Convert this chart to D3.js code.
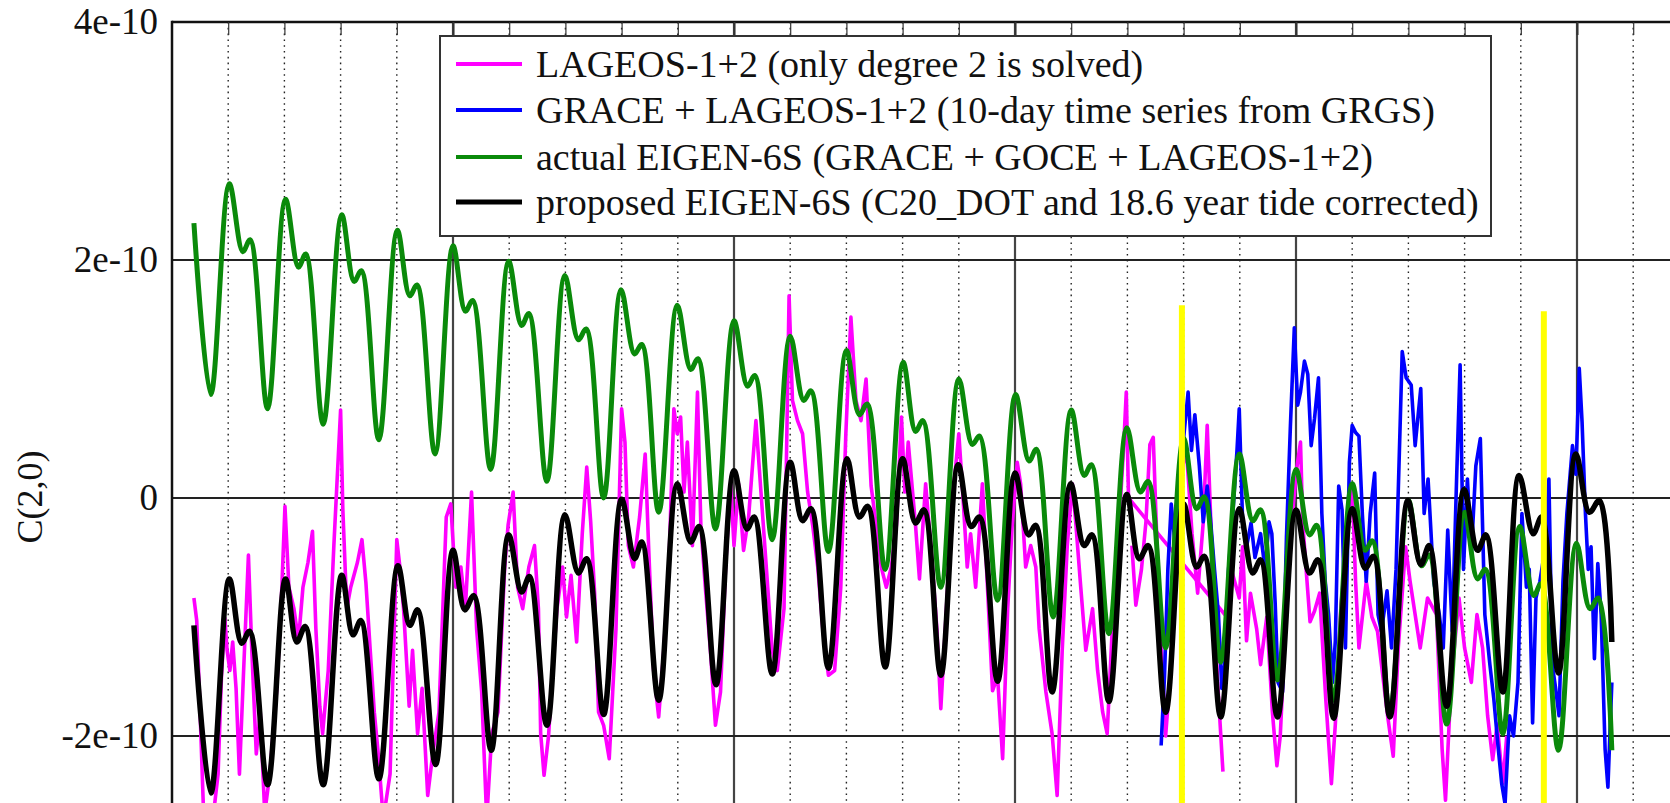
<!DOCTYPE html>
<html><head><meta charset="utf-8">
<script src="https://cdn.jsdelivr.net/npm/d3@7"></script>
<style>html,body{margin:0;padding:0;background:#fff;}svg{display:block;}
text{font-family:"Liberation Serif","Times New Roman",serif;}</style>
</head><body><svg id="c" width="1670" height="803"></svg>
<script>
// ---- DATA (values in units of 1e-12, time in decimal years) ----
const yTickValues = [400, 200, 0, -200];
const yTickLabels = ["4e-10", "2e-10", "0", "-2e-10"];
const yearGrid = [1986,1987,1988,1989,1990,1991,1992,1993,1994,1995,1996,1997,1998,1999,2000,2001,2002,2003,2004,2005,2006,2007,2008,2009,2010,2011];
const majorYears = [1990,1995,2000,2005,2010];
const legendLabels = [
  "LAGEOS-1+2 (only degree 2 is solved)",
  "GRACE + LAGEOS-1+2 (10-day time series from GRGS)",
  "actual EIGEN-6S (GRACE + GOCE + LAGEOS-1+2)",
  "proposed EIGEN-6S (C20_DOT and 18.6 year tide corrected)"
];
const seriesColors = ["#ff00ff", "#0000ff", "#0a8a0a", "#000000"];
const markerYears = [2002.97, 2009.41];
const markerTops = [162, 157];

const greenEigen = [
[1985.39,231],[1985.69,87],[1986.02,264],[1986.26,207],[1986.39,217],[1986.70,75],
[1987.02,251],[1987.25,194],[1987.38,205],[1987.69,62],[1988.02,238],[1988.24,182],[1988.37,191],[1988.68,49],
[1989.01,225],[1989.23,170],[1989.36,179],[1989.68,37],[1990.00,212],[1990.22,157],[1990.35,166],[1990.67,24],
[1990.99,199],[1991.22,145],[1991.35,155],[1991.67,14],[1991.99,187],[1992.23,133],[1992.37,142],[1992.68,0],
[1992.99,175],[1993.23,121],[1993.36,129],[1993.66,-12],[1993.99,162],[1994.23,108],[1994.36,117],[1994.67,-26],
[1995.00,149],[1995.24,94],[1995.37,103],[1995.68,-35],[1996.00,136],[1996.24,82],[1996.37,90],[1996.68,-45],
[1997.00,124],[1997.23,70],[1997.37,79],[1997.69,-60],[1998.01,114],[1998.23,56],[1998.36,65],[1998.68,-75],
[1999.00,100],[1999.24,45],[1999.37,52],[1999.69,-86],[2000.01,87],[2000.25,31],[2000.38,41],[2000.68,-100],
[2001.00,74],[2001.23,19],[2001.36,28],[2001.67,-114],[2001.99,59],[2002.23,5],[2002.37,14],[2002.68,-126],
[2003.00,50],[2003.23,-9],[2003.37,1],[2003.66,-138],[2003.99,37],[2004.23,-19],[2004.37,-10],[2004.67,-153],
[2005.00,24],[2005.24,-31],[2005.37,-23],[2005.67,-170],[2006.00,12],[2006.23,-44],[2006.36,-36],[2006.67,-180],
[2007.00,-2],[2007.23,-57],[2007.37,-48],[2007.68,-190],[2008.00,-12],[2008.23,-68],[2008.37,-60],[2008.68,-198],
[2008.98,-24],[2009.23,-82],[2009.36,-72],[2009.67,-212],[2009.99,-38],[2010.23,-93],[2010.38,-84],[2010.62,-212]
];

const blackProposed = [
[1985.39,-107],[1985.69,-248],[1986.02,-68],[1986.24,-122],[1986.38,-112],[1986.70,-241],
[1987.02,-68],[1987.22,-121],[1987.37,-108],[1987.69,-241],[1988.02,-65],[1988.22,-115],[1988.36,-103],[1988.68,-236],
[1989.02,-57],[1989.23,-107],[1989.37,-94],[1989.69,-224],[1990.00,-44],[1990.21,-94],[1990.37,-82],[1990.68,-212],
[1990.99,-31],[1991.22,-79],[1991.36,-66],[1991.67,-191],[1991.99,-14],[1992.23,-63],[1992.38,-51],[1992.68,-182],
[1993.00,-1],[1993.23,-51],[1993.36,-37],[1993.66,-170],[1993.99,12],[1994.23,-37],[1994.38,-24],[1994.68,-157],
[1995.00,23],[1995.23,-26],[1995.36,-16],[1995.68,-148],[1996.00,30],[1996.22,-19],[1996.37,-9],[1996.68,-143],
[1997.01,33],[1997.23,-16],[1997.38,-7],[1997.69,-142],[1998.00,33],[1998.23,-21],[1998.38,-10],[1998.68,-149],
[1998.99,28],[1999.22,-24],[1999.37,-16],[1999.69,-154],[2000.00,21],[2000.24,-31],[2000.37,-23],[2000.66,-163],
[2000.99,12],[2001.23,-40],[2001.37,-31],[2001.67,-171],[2001.99,3],[2002.21,-51],[2002.37,-40],[2002.68,-180],
[2003.00,-5],[2003.23,-58],[2003.37,-49],[2003.66,-184],[2003.99,-9],[2004.23,-63],[2004.37,-52],[2004.67,-184],
[2005.00,-10],[2005.24,-63],[2005.39,-52],[2005.67,-185],[2006.00,-9],[2006.23,-59],[2006.38,-49],[2006.67,-184],
[2006.99,-2],[2007.22,-56],[2007.37,-40],[2007.68,-175],[2007.99,7],[2008.23,-44],[2008.38,-31],[2008.68,-163],
[2008.97,19],[2009.22,-30],[2009.37,-16],[2009.67,-147],[2009.98,37],[2010.22,-12],[2010.40,-2],[2010.62,-121]
];

const magentaLageosA = [
[1985.39,-84],[1985.44,-103],[1985.50,-180],[1985.56,-262],[1985.65,-275],[1985.74,-265],[1985.82,-232],[1985.88,-150],
[1985.94,-101],[1985.98,-128],[1986.03,-145],[1986.08,-121],[1986.14,-160],[1986.20,-232],[1986.27,-150],[1986.36,-48],
[1986.42,-128],[1986.50,-215],[1986.57,-180],[1986.65,-265],[1986.74,-232],[1986.86,-163],[1986.94,-93],[1987.01,-7],
[1987.08,-75],[1987.17,-93],[1987.25,-120],[1987.33,-75],[1987.42,-54],[1987.50,-28],[1987.56,-110],[1987.63,-175],
[1987.68,-198],[1987.78,-145],[1987.88,-40],[1988.00,74],[1988.04,-10],[1988.11,-93],[1988.18,-75],[1988.30,-54],
[1988.38,-35],[1988.45,-71],[1988.53,-130],[1988.60,-180],[1988.67,-215],[1988.76,-270],[1988.88,-232],[1989.00,-35],
[1989.06,-60],[1989.12,-93],[1989.22,-175],[1989.28,-128],[1989.37,-198],[1989.45,-160],[1989.55,-250],[1989.64,-215],
[1989.75,-180],[1989.88,-16],[1989.96,-5],[1990.05,-75],[1990.14,-58],[1990.22,-93],[1990.33,5],[1990.42,-110],
[1990.51,-163],[1990.60,-270],[1990.69,-198],[1990.80,-180],[1990.92,-58],[1990.98,-23],[1991.07,5],[1991.15,-75],
[1991.24,-93],[1991.35,-58],[1991.45,-40],[1991.52,-93],[1991.56,-198],[1991.62,-233],[1991.70,-200],[1991.78,-140],
[1991.85,-93],[1991.95,-58],[1992.02,-100],[1992.10,-65],[1992.20,-121],[1992.30,-30],[1992.38,26],[1992.45,-20],
[1992.52,-80],[1992.59,-180],[1992.68,-191],[1992.78,-219],[1992.90,-110],[1993.00,75],[1993.06,47],[1993.12,-40],
[1993.21,-58],[1993.32,-16],[1993.42,37],[1993.48,-40],[1993.57,-145],[1993.66,-184],[1993.75,-128],[1993.84,-60],
[1993.93,75],[1993.99,54],[1994.05,68],[1994.11,5],[1994.17,47],[1994.26,-40],[1994.35,89],[1994.41,-23],
[1994.49,-75],[1994.58,-128],[1994.67,-191],[1994.76,-163],[1994.85,-58],[1994.94,12],[1995.00,-40],[1995.08,12],
[1995.17,-44],[1995.26,-16],[1995.39,65],[1995.48,5],[1995.60,-75],[1995.68,-128],[1995.77,-145],[1995.89,-93],
[1995.98,170],[1996.04,82],[1996.13,65],[1996.22,54],[1996.31,5],[1996.40,-23],[1996.49,-58],[1996.58,-110],
[1996.68,-149],[1996.79,-145],[1996.90,-75],[1996.99,54],[1997.08,152],[1997.17,82],[1997.26,65],[1997.35,100],
[1997.44,10],[1997.53,-23],[1997.62,-58],[1997.71,-75],[1997.80,-58],[1997.89,-23],[1997.98,68],[1998.04,5],
[1998.10,47],[1998.23,-23],[1998.30,-68],[1998.41,12],[1998.53,-58],[1998.61,-110],[1998.68,-177],[1998.78,-93],
[1998.88,-5],[1999.00,54],[1999.06,12],[1999.15,-58],[1999.21,-30],[1999.30,-75],[1999.42,12],[1999.51,-75],
[1999.60,-162],[1999.69,-150],[1999.78,-219],[1999.87,-93],[1999.95,-23],[2000.04,30],[2000.10,12],[2000.19,-58],
[2000.28,-40],[2000.37,-58],[2000.43,-110],[2000.55,-163],[2000.66,-198],[2000.75,-250],[2000.84,-128],[2000.93,-40],
[2001.02,12],[2001.08,-20],[2001.17,-75],[2001.26,-128],[2001.38,-93],[2001.47,-145],[2001.56,-180],[2001.64,-198],
[2001.73,-110],[2001.85,-23],[2001.93,40],[2001.98,89],[2002.02,0],
[2003.77,-100],[2003.85,-60],[2003.99,-84],[2004.05,-41],[2004.12,-120],[2004.19,-80],[2004.30,-110],[2004.37,-140],
[2004.48,-100],[2004.58,-180],[2004.66,-225],[2004.72,-200],[2004.80,-120],[2004.90,-30],[2005.02,27],[2005.08,47],
[2005.12,-20],[2005.18,-60],[2005.25,-104],[2005.33,-95],[2005.42,-80],[2005.53,-169],[2005.63,-240],[2005.70,-190],
[2005.80,-90],[2005.90,-40],[2006.00,10],[2006.06,-70],[2006.12,-126],[2006.25,-70],[2006.35,-100],[2006.45,-112],
[2006.63,-183],[2006.73,-217],[2006.82,-126],[2006.95,-41],[2007.03,-70],[2007.12,-98],[2007.21,-126],[2007.34,-84],
[2007.50,-98],[2007.60,-211],[2007.66,-254],[2007.76,-155],[2007.90,-84],[2008.00,-126],[2008.12,-155],[2008.22,-98],
[2008.32,-126],[2008.41,-183],[2008.50,-220],[2008.58,-190],[2008.68,-240],[2008.75,-200]
];
const magentaLageosB = [
[2002.08,-40],[2002.15,-90],[2002.25,-60],[2002.33,-20],[2002.40,45],[2002.46,51],[2002.52,-30],[2002.60,-120],
[2002.68,-200],[2002.76,-150],[2002.85,-60],[2002.95,20],[2003.05,40],[2003.15,-30],[2003.25,-80],[2003.35,-20],
[2003.42,61],[2003.50,-40],[2003.60,-150],[2003.70,-230]
];

const blueGrace = [
[2002.60,-208],[2002.66,-150],[2002.72,-60],[2002.78,-5],[2002.85,-40],[2002.92,10],[2003.02,60],[2003.08,89],
[2003.14,40],[2003.20,70],[2003.28,27],[2003.35,-20],[2003.42,10],[2003.47,-13],[2003.55,-60],[2003.62,-98],
[2003.68,-160],[2003.73,-140],[2003.80,-60],[2003.88,-10],[2003.95,40],[2003.99,75],[2004.05,-20],[2004.12,-41],
[2004.20,-21],[2004.27,-50],[2004.37,-30],[2004.45,-60],[2004.52,-20],[2004.57,-30],[2004.63,-89],[2004.68,-155],
[2004.76,-163],[2004.83,-33],[2004.90,60],[2004.97,143],[2005.03,78],[2005.08,89],[2005.15,115],[2005.21,104],
[2005.27,44],[2005.33,67],[2005.40,101],[2005.46,-13],[2005.52,-70],[2005.58,-98],[2005.65,-155],[2005.70,-120],
[2005.76,10],[2005.82,-10],[2005.88,-126],[2005.95,30],[2006.00,61],[2006.06,55],[2006.12,52],[2006.18,-13],
[2006.25,-70],[2006.32,-13],[2006.40,21],[2006.46,-98],[2006.52,-112],[2006.62,-78],[2006.70,-126],[2006.78,-60],
[2006.89,123],[2006.96,101],[2007.05,95],[2007.12,44],[2007.22,92],[2007.28,-13],[2007.35,16],[2007.45,-70],
[2007.55,-98],[2007.62,-126],[2007.70,-27],[2007.78,-112],[2007.86,20],[2007.92,112],[2007.98,-60],[2008.05,16],
[2008.12,-47],[2008.20,27],[2008.28,50],[2008.36,-98],[2008.45,-140],[2008.52,-169],[2008.60,-211],[2008.66,-240],
[2008.72,-257],[2008.80,-183],[2008.87,-200],[2008.95,-155],[2009.02,-13],[2009.10,-75],[2009.15,-60],[2009.21,-189],
[2009.27,-84],[2009.34,-70],[2009.44,-40],[2009.50,16],[2009.56,-140],[2009.62,-160],[2009.68,-183],[2009.75,-70],
[2009.82,-13],[2009.92,44],[2009.98,20],[2010.04,109],[2010.09,64],[2010.15,-13],[2010.20,-60],[2010.25,-41],
[2010.31,-135],[2010.37,-55],[2010.43,-98],[2010.50,-211],[2010.55,-243],[2010.62,-155]
];

// ---- LAYOUT ----
const W = 1670, H = 803;
const plotLeft = 172, plotTop = 22;
const svg = d3.select("#c");
const x = d3.scaleLinear().domain([1985, 2012]).range([plotLeft, plotLeft + 27 * 56.2]);
const y = d3.scaleLinear().domain([-300, 400]).range([855, plotTop]);
const font = "Liberation Serif, Times New Roman, serif";

svg.append("rect").attr("width", W).attr("height", H).attr("fill", "#fff");
svg.append("defs").append("clipPath").attr("id", "plot")
  .append("rect").attr("x", plotLeft).attr("y", plotTop).attr("width", W - plotLeft).attr("height", H - plotTop);

const g = svg.append("g").attr("clip-path", "url(#plot)");

// vertical grid
g.selectAll("line.vg").data(yearGrid).join("line")
  .attr("x1", d => x(d)).attr("x2", d => x(d)).attr("y1", plotTop).attr("y2", H)
  .attr("stroke", d => majorYears.includes(d) ? "#444" : "#222")
  .attr("stroke-width", d => majorYears.includes(d) ? 2.2 : 1.4)
  .attr("stroke-dasharray", d => majorYears.includes(d) ? null : "1.6,4.2");
// horizontal grid
g.selectAll("line.hg").data(yTickValues.filter(v => v < 400)).join("line")
  .attr("x1", plotLeft).attr("x2", W).attr("y1", d => y(d)).attr("y2", d => y(d))
  .attr("stroke", "#222").attr("stroke-width", 2);

const lineLin = d3.line().x(d => x(d[0])).y(d => y(d[1]));
const lineSmooth = d3.line().x(d => x(d[0])).y(d => y(d[1])).curve(d3.curveCatmullRom.alpha(0.5));

g.append("path").datum(magentaLageosA).attr("d", lineLin).attr("fill", "none")
  .attr("stroke", seriesColors[0]).attr("stroke-width", 3.6).attr("stroke-linejoin", "round");
g.append("path").datum(magentaLageosB).attr("d", lineLin).attr("fill", "none")
  .attr("stroke", seriesColors[0]).attr("stroke-width", 3.6).attr("stroke-linejoin", "round");
g.append("path").datum(blueGrace).attr("d", lineLin).attr("fill", "none")
  .attr("stroke", seriesColors[1]).attr("stroke-width", 3.6).attr("stroke-linejoin", "round");
g.append("path").datum(greenEigen).attr("d", lineSmooth).attr("fill", "none")
  .attr("stroke", seriesColors[2]).attr("stroke-width", 5).attr("stroke-linejoin", "round");
g.append("path").datum(blackProposed).attr("d", lineSmooth).attr("fill", "none")
  .attr("stroke", seriesColors[3]).attr("stroke-width", 5.5).attr("stroke-linejoin", "round");

// yellow markers
g.selectAll("line.mk").data(markerYears).join("line")
  .attr("x1", d => x(d)).attr("x2", d => x(d))
  .attr("y1", (d, i) => y(markerTops[i])).attr("y2", y(-300))
  .attr("stroke", "#ffff00").attr("stroke-width", 6);

// frame
svg.append("line").attr("x1", plotLeft).attr("x2", W).attr("y1", plotTop).attr("y2", plotTop)
  .attr("stroke", "#111").attr("stroke-width", 2.5);
svg.append("line").attr("x1", plotLeft).attr("x2", plotLeft).attr("y1", plotTop - 1.2).attr("y2", H)
  .attr("stroke", "#111").attr("stroke-width", 2.5);

// top ticks
const topAxis = d3.axisTop(x).tickValues(yearGrid).tickSize(-13).tickFormat("");
const ta = svg.append("g").attr("transform", `translate(0,${plotTop})`).call(topAxis);
ta.select(".domain").remove();
ta.selectAll(".tick line").attr("stroke", "#333").attr("stroke-width", d => majorYears.includes(d) ? 2 : 1.2);

// y axis labels
const leftAxis = d3.axisLeft(y).tickValues(yTickValues).tickSize(0).tickPadding(14)
  .tickFormat((d, i) => yTickLabels[i]);
const la = svg.append("g").attr("transform", `translate(${plotLeft},0)`).call(leftAxis);
la.select(".domain").remove();
la.attr("font-family", font);
la.selectAll("text").attr("font-family", font).attr("font-size", 37).attr("fill", "#111");

svg.append("text").attr("transform", "translate(42,497) rotate(-90)")
  .attr("text-anchor", "middle").attr("font-family", font).attr("font-size", 36).attr("fill", "#111")
  .text("C(2,0)");

// legend
const lg = svg.append("g");
lg.append("rect").attr("x", 440).attr("y", 36).attr("width", 1051).attr("height", 200)
  .attr("fill", "#fff").attr("stroke", "#333").attr("stroke-width", 2);
const rowY = [64, 110, 157, 202];
legendLabels.forEach((lab, i) => {
  lg.append("line").attr("x1", 456).attr("x2", 522).attr("y1", rowY[i]).attr("y2", rowY[i])
    .attr("stroke", seriesColors[i]).attr("stroke-width", i === 3 ? 5 : 4);
  lg.append("text").attr("x", 536).attr("y", rowY[i]).attr("dy", "0.33em")
    .attr("font-family", font).attr("font-size", 38).attr("fill", "#111").text(lab);
});
</script></body></html>
